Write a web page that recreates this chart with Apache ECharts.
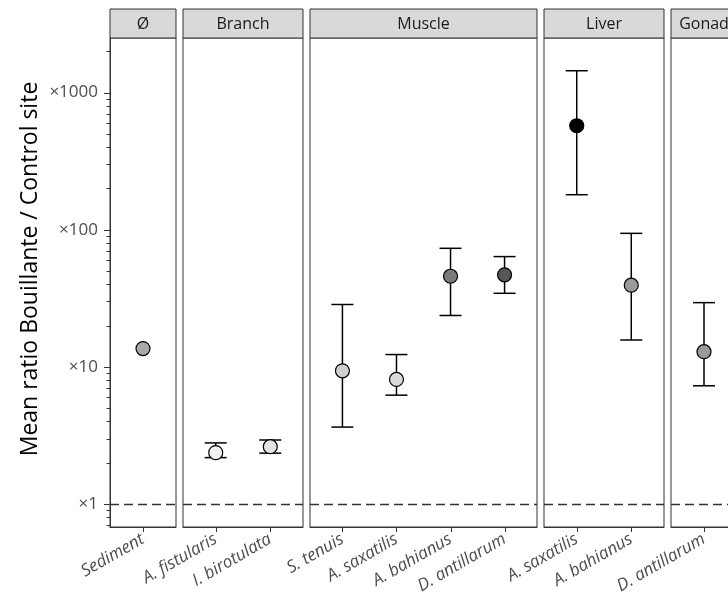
<!DOCTYPE html>
<html>
<head>
<meta charset="utf-8">
<script src="https://cdn.jsdelivr.net/npm/echarts@6/dist/echarts.min.js"></script>
<style>html,body{margin:0;padding:0;background:#fff}#c{width:728px;height:597px}</style>
</head>
<body>
<div id="c"></div>
<script>
// ---- data ----
const panelNames = ['Ø', 'Branch', 'Muscle', 'Liver', 'Gonad'];
const labels = ['Sediment', 'A. fistularis', 'I. birotulata', 'S. tenuis', 'A. saxatilis', 'A. bahianus', 'D. antillarum', 'A. saxatilis', 'A. bahianus', 'D. antillarum'];
const panelOf = [0, 1, 1, 2, 2, 2, 2, 3, 3, 4];
const means = [13.6, 2.37, 2.62, 9.36, 8.1, 45.8, 46.9, 573, 39.4, 12.9];
const lower = [null, 2.18, 2.35, 3.64, 6.22, 23.7, 34.4, 180, 15.7, 7.28];
const upper = [null, 2.79, 2.93, 28.5, 12.3, 73.2, 63.7, 1443, 94.1, 29.4];
const fills = ['#a9a9a9', '#f2f2f2', '#e3e3e3', '#cfcfcf', '#d9d9d9', '#7a7a7a', '#575757', '#000000', '#9a9a9a', '#9a9a9a'];
const yTicks = [1, 10, 100, 1000];
const yTitle = 'Mean ratio Bouillante / Control site';

// ---- layout ----
const FONT = '"Open Sans", "Noto Sans", sans-serif';
const gTop = 38, gBottom = 527;
const yMin = 0.68, yMax = 2500;
const PAD = 0.6; // discrete-axis expansion on each side
const minorTicks = [];
for (let d = 0.1; d <= 1000; d *= 10) for (let k = 2; k <= 9; k++) {
  const v = Math.round(k * d * 1000) / 1000;
  if (v > yMin && v < yMax) minorTicks.push(v);
}
const lineCol = '#333';

const grids = [], xAxes = [], yAxes = [], series = [], graphics = [];
let x0 = 110;
panelNames.forEach((name, p) => {
  const idx = [];
  panelOf.forEach((q, i) => { if (q === p) idx.push(i); });
  const n = idx.length;
  const w = Math.round(53.5 * n + 12.5);
  const left = Math.round(x0);
  grids.push({ left: left, top: gTop, width: w, height: gBottom - gTop, show: true, borderColor: lineCol, borderWidth: 1, backgroundColor: '#fff', containLabel: false, outerBoundsMode: 'none' });
  const pos = idx.map((_, j) => j + PAD);
  xAxes.push({
    type: 'value', gridIndex: p, min: 0, max: n - 1 + 2 * PAD, position: 'bottom',
    splitLine: { show: false }, axisLine: { show: true, lineStyle: { color: lineCol, width: 1 } },
    axisTick: { show: false },
    axisLabel: { customValues: pos, formatter: v => labels[idx[Math.round(v - PAD)]], rotate: 30, fontStyle: 'italic', fontSize: 17, color: '#4d4d4d', fontFamily: FONT, margin: 11 }
  });
  yAxes.push({
    type: 'log', gridIndex: p, min: yMin, max: yMax, position: 'left',
    splitLine: { show: false }, axisLine: { show: p === 0, lineStyle: { color: lineCol, width: 1 } },
    axisTick: { show: false },
    axisLabel: { show: p === 0, customValues: yTicks, formatter: v => '×' + Math.round(v), fontSize: 17, color: '#4d4d4d', fontFamily: FONT, margin: 12 }
  });
  // x-axis tick marks, placed through the axis scales
  series.push({
    type: 'custom', xAxisIndex: p, yAxisIndex: p, z: 5, clip: false, silent: true,
    data: pos.map(x => [x, yMin]),
    encode: { x: 0, y: 1 },
    renderItem: (params, api) => {
      const c = api.coord([api.value(0), api.value(1)]);
      const xx = Math.round(c[0]) + 0.5, yy = Math.round(c[1]);
      return { type: 'line', shape: { x1: xx, y1: yy, x2: xx, y2: yy + 5 }, style: { stroke: lineCol, lineWidth: 1 } };
    }
  });
  series.push({
    type: 'custom', xAxisIndex: p, yAxisIndex: p, z: 3,
    data: idx.filter(i => lower[i] != null).map(i => [idx.indexOf(i) + PAD, lower[i], upper[i]]),
    encode: { x: 0, y: [1, 2] },
    renderItem: (params, api) => {
      const xv = api.value(0);
      const a = api.coord([xv, api.value(2)]);
      const b = api.coord([xv, api.value(1)]);
      const hw = 11;
      const st = { stroke: '#000', lineWidth: 1.5 };
      return { type: 'group', children: [
        { type: 'line', shape: { x1: a[0], y1: a[1], x2: b[0], y2: b[1] }, style: st },
        { type: 'line', shape: { x1: a[0] - hw, y1: a[1], x2: a[0] + hw, y2: a[1] }, style: st },
        { type: 'line', shape: { x1: b[0] - hw, y1: b[1], x2: b[0] + hw, y2: b[1] }, style: st }
      ] };
    }
  });
  series.push({
    type: 'scatter', xAxisIndex: p, yAxisIndex: p, z: 4, symbolSize: 14,
    data: idx.map((i, j) => ({ value: [j + PAD, means[i]], itemStyle: { color: fills[i], borderColor: '#000', borderWidth: 1.2, opacity: 1 } })),
    markLine: { silent: true, symbol: 'none', label: { show: false }, lineStyle: { type: [9, 5], color: lineCol, width: 1.3 }, data: [{ yAxis: 1 }] }
  });
  graphics.push({ type: 'rect', shape: { x: left, y: 9, width: w, height: gTop - 9 }, style: { fill: '#d9d9d9', stroke: lineCol, lineWidth: 1 } });
  graphics.push({ type: 'text', x: left + w / 2, y: 24, style: { text: name, align: 'center', verticalAlign: 'middle', font: '16px ' + FONT, fill: '#1a1a1a' } });
  x0 = left + w + 7;
});
// y-axis tick marks (major and minor) on the first panel, placed through the log scale
series.push({
  type: 'custom', xAxisIndex: 0, yAxisIndex: 0, z: 5, clip: false, silent: true,
  data: yTicks.map(v => [0, v, 6]).concat(minorTicks.map(v => [0, v, 3.5])),
  encode: { x: 0, y: 1 },
  renderItem: (params, api) => {
    const c = api.coord([api.value(0), api.value(1)]);
    const len = api.value(2);
    const xx = Math.round(c[0]), yy = Math.round(c[1]) + 0.5;
    return { type: 'line', shape: { x1: xx - len, y1: yy, x2: xx, y2: yy }, style: { stroke: lineCol, lineWidth: 1 } };
  }
});
graphics.push({ type: 'text', x: 30, y: 269, rotation: Math.PI / 2, style: { text: yTitle, align: 'center', verticalAlign: 'middle', font: '23px ' + FONT, fill: '#000' } });

const chart = echarts.init(document.getElementById('c'), null, { renderer: 'canvas' });
chart.setOption({
  animation: false,
  backgroundColor: '#fff',
  grid: grids, xAxis: xAxes, yAxis: yAxes, series: series,
  graphic: graphics
});
</script>
</body>
</html>
